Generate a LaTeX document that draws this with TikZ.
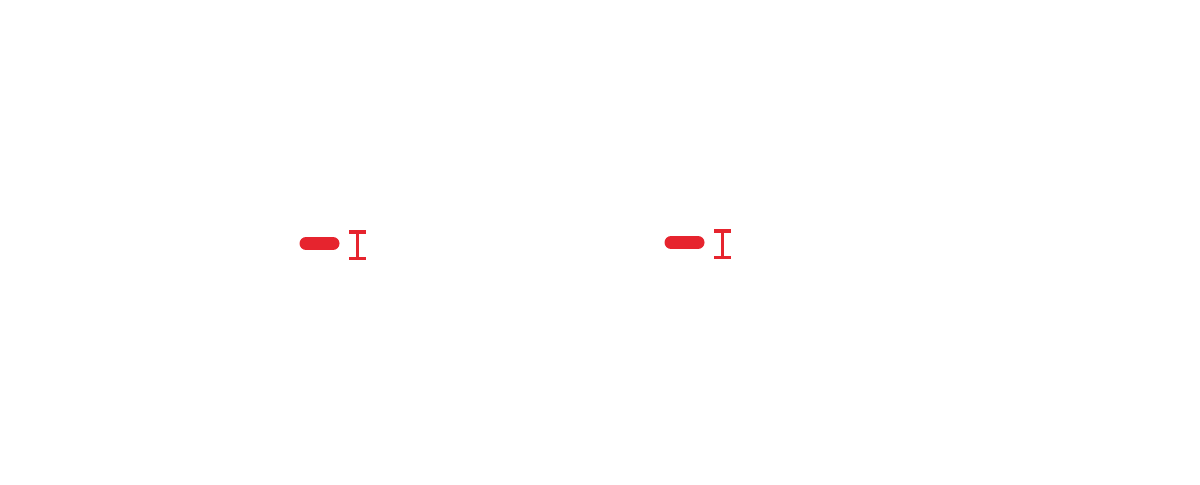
\documentclass[tikz,border=0pt]{standalone}
\usepackage{tikz}
\definecolor{markred}{RGB}{230,36,46}
\tikzstyle{bar}=[line width=13pt*0.02/0.0352778, line cap=round, draw=markred]
\tikzstyle{ibeam}=[line width=3.2*0.02cm, draw=markred]
\begin{document}
\begin{tikzpicture}[x=0.02cm, y=-0.02cm]
	\useasboundingbox (0,0) rectangle (1200,484);
	% left mark
	\draw [style=bar, line width=0.26cm] (306,243.5) -- (333,243.5);
	\draw [style=ibeam] (349,232) -- (366,232);
	\draw [style=ibeam] (349,258.5) -- (366,258.5);
	\draw [style=ibeam] (357.5,232) -- (357.5,258.5);
	% right mark
	\draw [style=bar, line width=0.26cm] (671,242.5) -- (698,242.5);
	\draw [style=ibeam] (714,231) -- (731,231);
	\draw [style=ibeam] (714,257.5) -- (731,257.5);
	\draw [style=ibeam] (722.5,231) -- (722.5,257.5);
\end{tikzpicture}
\end{document}
